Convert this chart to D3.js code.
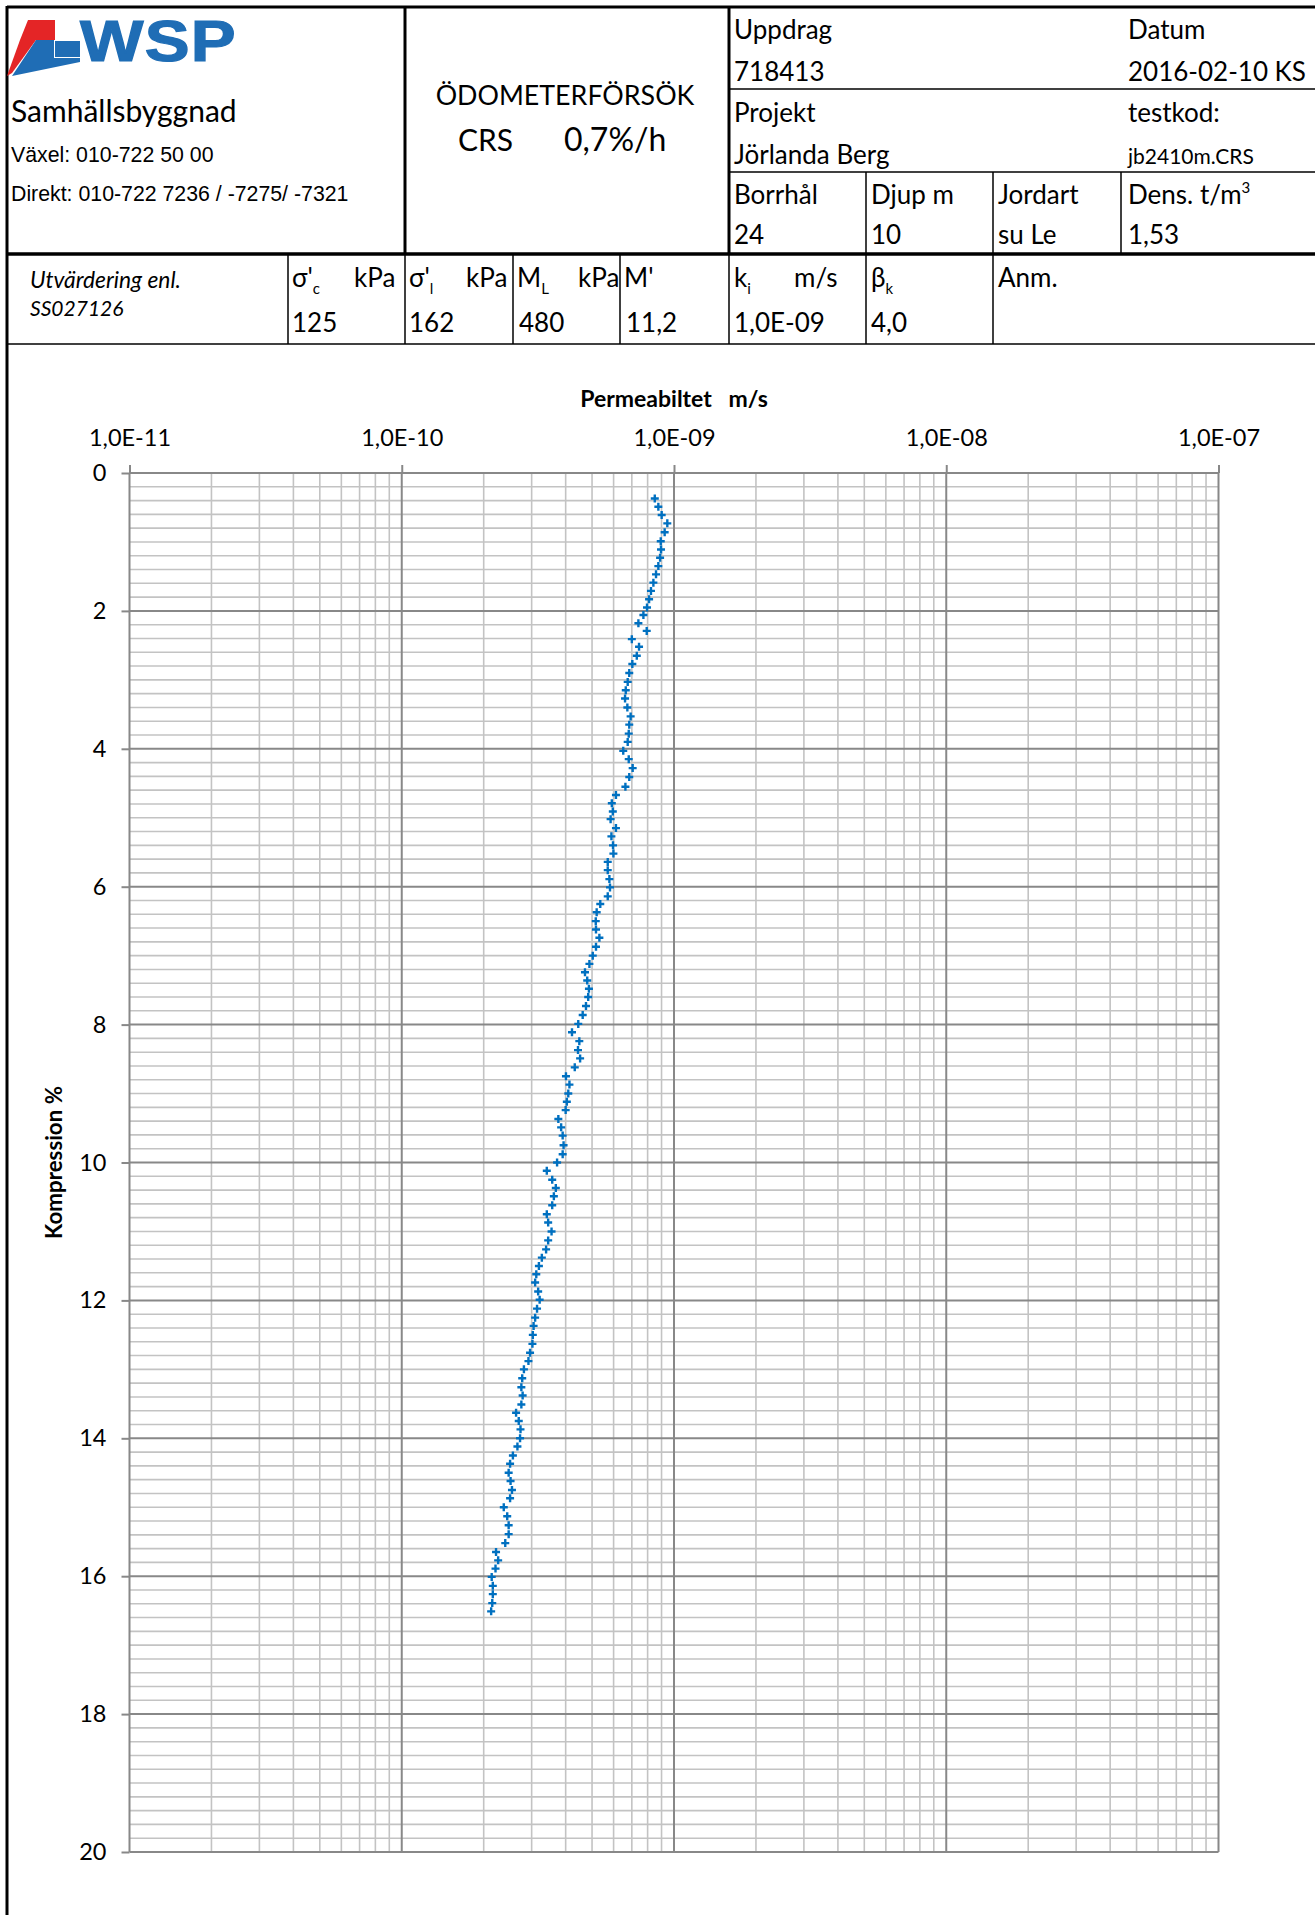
<!DOCTYPE html>
<html>
<head>
<meta charset="utf-8">
<script src="https://cdn.jsdelivr.net/npm/d3@7"></script>
<style>
  body { margin: 0; background: #fff; }
  text { font-family: Lato, "Open Sans", sans-serif; fill: #000; }
</style>
</head>
<body>
<svg width="1315" height="1915"></svg>
<script>
// kompression (%) och permeabilitet (m/s)
const compression = [
  0.37,0.49,0.61,0.73,0.86,0.99,1.11,1.23,1.35,1.47,
  1.59,1.71,1.83,1.95,2.06,2.18,2.29,2.41,2.52,2.65,
  2.77,2.90,3.03,3.15,3.27,3.40,3.53,3.65,3.78,3.90,
  4.03,4.15,4.28,4.41,4.55,4.67,4.79,4.91,5.02,5.15,
  5.27,5.40,5.52,5.64,5.76,5.89,6.01,6.14,6.25,6.37,
  6.50,6.62,6.74,6.87,7.00,7.12,7.24,7.36,7.48,7.60,
  7.73,7.86,7.99,8.11,8.24,8.37,8.49,8.62,8.75,8.87,
  9.00,9.12,9.24,9.37,9.49,9.61,9.75,9.88,10.00,10.12,
  10.25,10.37,10.49,10.62,10.75,10.87,11.00,11.13,11.26,11.38,
  11.50,11.62,11.74,11.87,11.99,12.12,12.25,12.37,12.50,12.63,
  12.76,12.88,13.00,13.13,13.26,13.38,13.51,13.63,13.75,13.87,
  14.00,14.12,14.25,14.37,14.50,14.62,14.75,14.87,15.00,15.13,
  15.26,15.39,15.52,15.65,15.77,15.89,16.01,16.14,16.26,16.39,16.51
];
const permeability = [
  8.50e-10,8.76e-10,9.01e-10,9.45e-10,9.24e-10,8.94e-10,8.96e-10,8.89e-10,8.76e-10,8.59e-10,
  8.40e-10,8.23e-10,8.10e-10,7.96e-10,7.72e-10,7.40e-10,7.94e-10,7.00e-10,7.44e-10,7.30e-10,
  7.03e-10,6.85e-10,6.76e-10,6.65e-10,6.61e-10,6.74e-10,6.93e-10,6.85e-10,6.82e-10,6.76e-10,
  6.51e-10,6.82e-10,7.05e-10,6.85e-10,6.63e-10,6.12e-10,5.91e-10,5.96e-10,5.85e-10,6.12e-10,
  5.89e-10,5.97e-10,5.99e-10,5.71e-10,5.71e-10,5.79e-10,5.82e-10,5.71e-10,5.36e-10,5.20e-10,
  5.16e-10,5.17e-10,5.32e-10,5.17e-10,5.03e-10,4.89e-10,4.71e-10,4.80e-10,4.87e-10,4.84e-10,
  4.75e-10,4.62e-10,4.45e-10,4.22e-10,4.49e-10,4.44e-10,4.52e-10,4.32e-10,4.01e-10,4.13e-10,
  4.09e-10,4.04e-10,4.00e-10,3.76e-10,3.85e-10,3.90e-10,3.93e-10,3.90e-10,3.72e-10,3.41e-10,
  3.57e-10,3.68e-10,3.62e-10,3.57e-10,3.41e-10,3.45e-10,3.55e-10,3.45e-10,3.39e-10,3.27e-10,
  3.19e-10,3.12e-10,3.09e-10,3.17e-10,3.21e-10,3.14e-10,3.09e-10,3.05e-10,3.03e-10,3.02e-10,
  2.96e-10,2.92e-10,2.81e-10,2.77e-10,2.75e-10,2.78e-10,2.75e-10,2.63e-10,2.69e-10,2.73e-10,
  2.72e-10,2.66e-10,2.56e-10,2.50e-10,2.47e-10,2.51e-10,2.54e-10,2.50e-10,2.37e-10,2.44e-10,
  2.47e-10,2.47e-10,2.40e-10,2.22e-10,2.26e-10,2.21e-10,2.14e-10,2.16e-10,2.16e-10,2.15e-10,2.13e-10
];
const xTicks = [1e-11, 1e-10, 1e-9, 1e-8, 1e-7];
const xTickLabels = ['1,0E-11', '1,0E-10', '1,0E-09', '1,0E-08', '1,0E-07'];
const yTicks = [0, 2, 4, 6, 8, 10, 12, 14, 16, 18, 20];

const svg = d3.select('svg');
const W = +svg.attr('width');
const H = +svg.attr('height');

// ---------- huvud (tabell) ----------
const head = svg.append('g');
const line = (x1, y1, x2, y2, w) => head.append('line')
  .attr('x1', x1).attr('y1', y1).attr('x2', x2).attr('y2', y2)
  .attr('stroke', '#000').attr('stroke-width', w);

line(7, 7, W, 7, 3);          // topp
line(7, 254, W, 254, 3.5);
line(7, 344, W, 344, 1.5);
line(7, 6, 7, H, 3);          // vänsterkant
line(405, 7, 405, 254, 3);
line(729, 7, 729, 254, 3);
line(729, 89, W, 89, 1.5);
line(729, 172, W, 172, 1.5);
[866, 993, 1121].forEach(x => line(x, 172, x, 254, 1.5));
[288, 405, 513, 620, 729, 866, 993].forEach(x => line(x, 254, x, 344, 1.5));

// logga
const logo = head.append('g');
logo.append('polygon').attr('points', '28,20 55,20 55,40 20,40').attr('fill', '#e42526');
logo.append('polygon').attr('points', '20,40 36,40 12,73 7,76').attr('fill', '#e42526');
logo.append('polygon').attr('points', '36,40 54,40 54,58 80,58 80,62 12,76').attr('fill', '#1f6db5');
logo.append('polygon').attr('points', '55,41 80,41 80,57 55,57').attr('fill', '#1f6db5');
logo.append('text').attr('transform', 'translate(80,61) scale(1.18,1)')
  .style('font-family', '"Liberation Sans", Arial, sans-serif')
  .style('font-weight', 'bold').style('font-size', '57px')
  .style('letter-spacing', '1px').style('fill', '#1f6db5')
  .style('stroke', '#1f6db5').style('stroke-width', 1.2).text('WSP');

const txt = (x, y, s, size, opts = {}) => {
  const t = head.append('text').attr('x', x).attr('y', y)
    .style('font-size', size + 'px');
  if (opts.anchor) t.attr('text-anchor', opts.anchor);
  if (opts.italic) t.style('font-style', 'italic');
  if (opts.family) t.style('font-family', opts.family);
  t.text(s);
  return t;
};
const arial = '"Liberation Sans", Arial, sans-serif';

txt(11, 122, 'Samhällsbyggnad', 30);
txt(11, 162, 'Växel: 010-722 50 00', 21.3, { family: arial });
txt(11, 201, 'Direkt: 010-722 7236 / -7275/ -7321', 21.3, { family: arial });

txt(565, 105, 'ÖDOMETERFÖRSÖK', 26.8, { anchor: 'middle' });
txt(458, 151, 'CRS', 30);
txt(564, 151, '0,7%/h', 32);

const hs = 26;
txt(734, 39, 'Uppdrag', hs);
txt(734, 81, '718413', hs);
txt(1128, 39, 'Datum', hs);
txt(1128, 81, '2016-02-10 KS', hs);
txt(734, 122, 'Projekt', hs);
txt(734, 164, 'Jörlanda Berg', hs);
txt(1128, 122, 'testkod:', hs);
txt(1128, 164, 'jb2410m.CRS', 21);
txt(734, 204, 'Borrhål', hs);
txt(871, 204, 'Djup m', hs);
txt(998, 204, 'Jordart', hs);
const dens = txt(1128, 204, 'Dens. t/m', hs);
dens.append('tspan').attr('dy', -11).style('font-size', '15px').text('3');
txt(734, 244, '24', hs);
txt(871, 244, '10', hs);
txt(998, 244, 'su Le', hs);
txt(1128, 244, '1,53', hs);

// rad 2
txt(30, 288, 'Utvärdering enl.', 22.8, { italic: true });
txt(30, 316, 'SS027126', 21, { italic: true });

const sub = (x, y, main, subs, unit, unitX) => {
  const t = txt(x, y, main, hs);
  if (subs) t.append('tspan').attr('dy', 7).style('font-size', '15px').text(subs);
  if (unit) txt(unitX, y, unit, hs);
};
sub(292, 287, "σ'", 'c', 'kPa', 354);
sub(409, 287, "σ'", 'l', 'kPa', 466);
sub(517, 287, 'M', 'L', 'kPa', 578);
sub(624, 287, "M'", null, null);
sub(734, 287, 'k', 'i', 'm/s', 794);
sub(871, 287, 'β', 'k', null);
txt(998, 287, 'Anm.', hs);

txt(292, 332, '125', hs);
txt(409, 332, '162', hs);
txt(519, 332, '480', hs);
txt(626, 332, '11,2', hs);
txt(734, 332, '1,0E-09', hs);
txt(871, 332, '4,0', hs);

// ---------- diagram ----------
const x = d3.scaleLog().domain([1e-11, 1e-7]).range([129.5, 1218.5]);
const y = d3.scaleLinear().domain([0, 20]).range([473, 1852]);

const plot = svg.append('g');
const minorX = x.ticks().filter(v => !xTicks.some(t => Math.abs(t - v) / t < 1e-6));
const minorY = y.ticks(100).filter(v => Math.abs(v % 2) > 1e-6 && Math.abs(v % 2 - 2) > 1e-6);

plot.selectAll('.mx').data(minorX).enter().append('line')
  .attr('x1', d => x(d)).attr('x2', d => x(d))
  .attr('y1', y(0)).attr('y2', y(20))
  .attr('stroke', '#c3c3c3').attr('stroke-width', 1.6);
plot.selectAll('.my').data(minorY).enter().append('line')
  .attr('y1', d => y(d)).attr('y2', d => y(d))
  .attr('x1', x(1e-11)).attr('x2', x(1e-7))
  .attr('stroke', '#c3c3c3').attr('stroke-width', 1.6);
plot.selectAll('.Mx').data(xTicks).enter().append('line')
  .attr('x1', d => x(d)).attr('x2', d => x(d))
  .attr('y1', y(0)).attr('y2', y(20))
  .attr('stroke', '#888').attr('stroke-width', 2);
plot.selectAll('.My').data(yTicks).enter().append('line')
  .attr('y1', d => y(d)).attr('y2', d => y(d))
  .attr('x1', x(1e-11)).attr('x2', x(1e-7))
  .attr('stroke', '#888').attr('stroke-width', 2);

const xAxis = d3.axisTop(x).tickValues(xTicks)
  .tickFormat((d, i) => xTickLabels[i]).tickSize(8).tickPadding(19);
const yAxis = d3.axisLeft(y).tickValues(yTicks).tickSize(8).tickPadding(15);

const xAxisG = plot.append('g').attr('transform', `translate(0,${y(0)})`).call(xAxis);
const yAxisG = plot.append('g').attr('transform', `translate(${x(1e-11)},0)`).call(yAxis);
[xAxisG, yAxisG].forEach(g => {
  g.select('.domain').remove();
  g.selectAll('.tick line').attr('stroke', '#888').attr('stroke-width', 2);
  g.selectAll('.tick text').style('font-family', 'Lato, sans-serif')
    .style('font-size', '23.5px').attr('fill', '#000');
});

plot.append('text').attr('x', 674).attr('y', 407).attr('text-anchor', 'middle')
  .style('font-size', '23px').style('font-weight', 'bold')
  .attr('xml:space', 'preserve').text('Permeabiltet   m/s');

plot.append('text').attr('transform', `translate(62,${(y(0) + y(20)) / 2}) rotate(-90)`)
  .attr('text-anchor', 'middle')
  .style('font-size', '22.3px').style('font-weight', 'bold')
  .text('Kompression %');

// mätpunkter
const pts = compression.map((c, i) => ({ c, k: permeability[i] }));
plot.selectAll('.pt').data(pts).enter().append('path')
  .attr('transform', d => `translate(${x(d.k)},${y(d.c)})`)
  .attr('d', 'M-4,0H4M0,-4V4')
  .attr('stroke', '#0070c0').attr('stroke-width', 2.4).attr('fill', 'none');
</script>
</body>
</html>
